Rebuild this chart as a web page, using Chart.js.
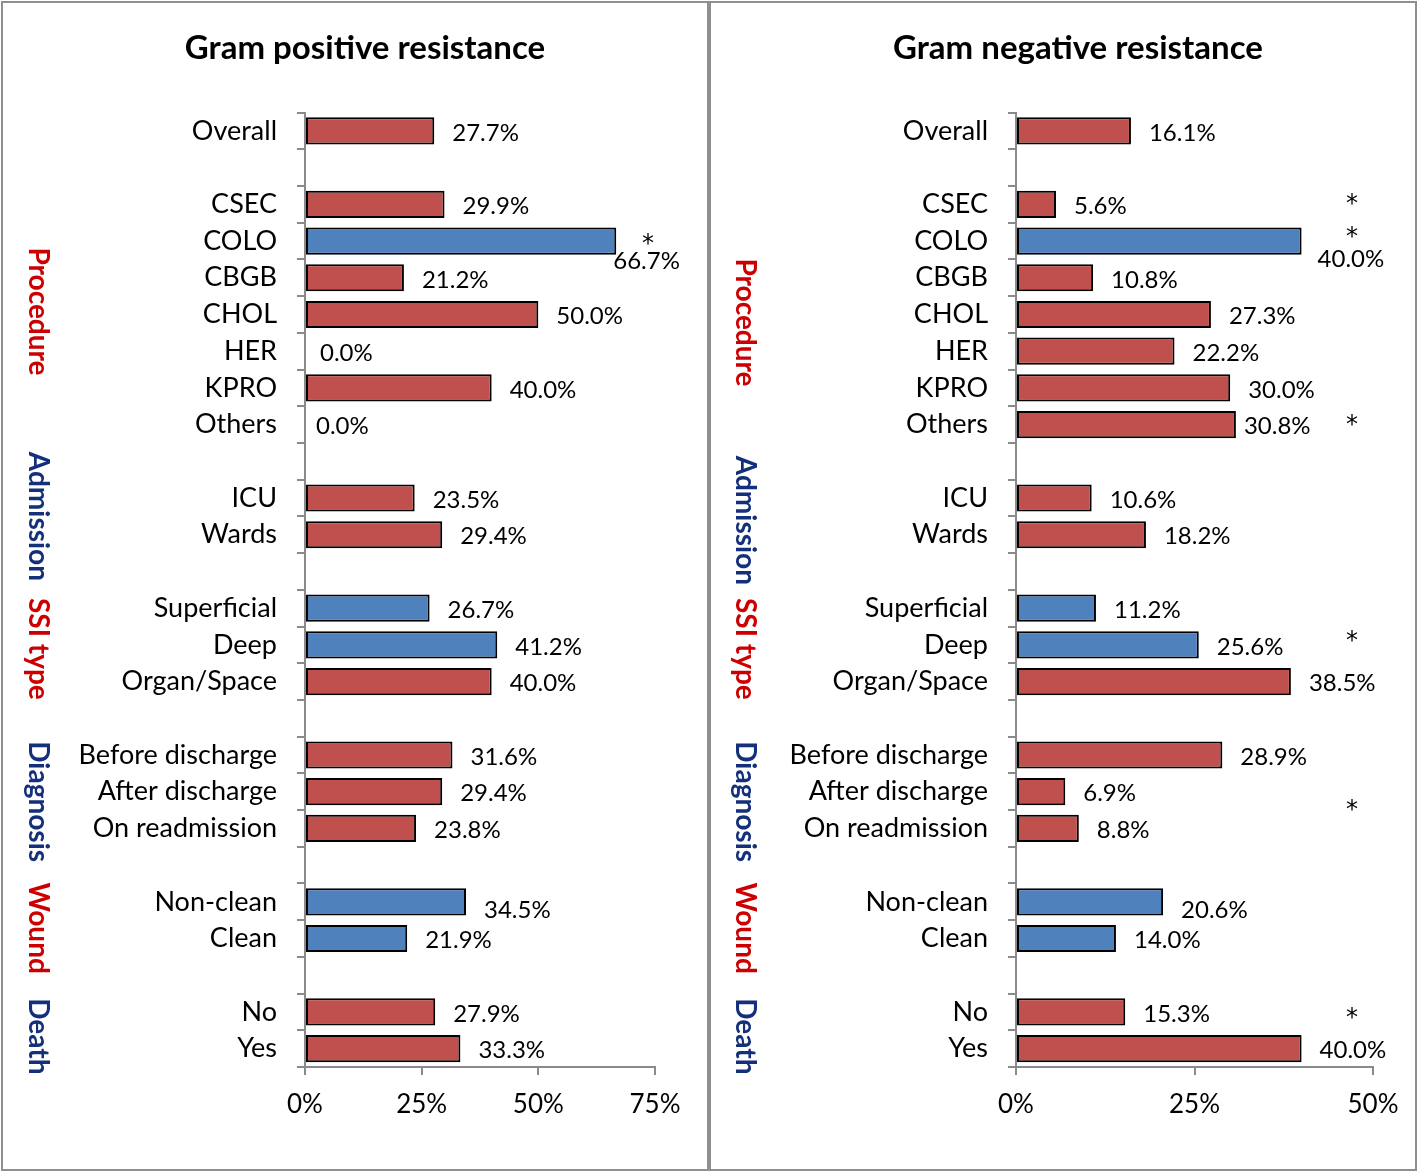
<!DOCTYPE html>
<html>
<head>
<meta charset="utf-8">
<title>Gram positive and Gram negative resistance</title>
<script src="https://cdn.jsdelivr.net/npm/chart.js@4.4.0/dist/chart.umd.min.js"></script>
<style>
  body { margin: 0; background: #fff; }
  .panel { position: absolute; top: 1px; width: 708px; height: 1170px; border: 2px solid #8f8f8f; box-sizing: border-box; }
  #panelPos { left: 1px; }
  #panelNeg { left: 709px; }
  canvas { position: absolute; left: 0; top: 0; }
</style>
</head>
<body>
<div class="panel" id="panelPos"><canvas id="chartPos" width="704" height="1166"></canvas></div>
<div class="panel" id="panelNeg"><canvas id="chartNeg" width="704" height="1166"></canvas></div>
<script>
// categorías (las vacías son los huecos entre grupos)
const categories = ['Overall', '', 'CSEC', 'COLO', 'CBGB', 'CHOL', 'HER', 'KPRO', 'Others', '',
  'ICU', 'Wards', '', 'Superficial', 'Deep', 'Organ/Space', '',
  'Before discharge', 'After discharge', 'On readmission', '', 'Non-clean', 'Clean', '', 'No', 'Yes'];

const gramPositive = [27.7, null, 29.9, 66.7, 21.2, 50.0, 0.0, 40.0, 0.0, null, 23.5, 29.4, null,
  26.7, 41.2, 40.0, null, 31.6, 29.4, 23.8, null, 34.5, 21.9, null, 27.9, 33.3];
const gramNegative = [16.1, null, 5.6, 40.0, 10.8, 27.3, 22.2, 30.0, 30.8, null, 10.6, 18.2, null,
  11.2, 25.6, 38.5, null, 28.9, 6.9, 8.8, null, 20.6, 14.0, null, 15.3, 40.0];

const blueBars = ['COLO', 'Superficial', 'Deep', 'Non-clean', 'Clean'];
const positiveStars = ['COLO'];
const negativeStars = ['CSEC', 'COLO', 'Others', 'Deep', 'After discharge', 'No'];

const positiveTicks = [0, 25, 50, 75];
const negativeTicks = [0, 25, 50];

const groups = [
  { name: 'Procedure', from: 'CSEC', to: 'Others' },
  { name: 'Admission', from: 'ICU', to: 'Wards' },
  { name: 'SSI type', from: 'Superficial', to: 'Organ/Space' },
  { name: 'Diagnosis', from: 'Before discharge', to: 'On readmission' },
  { name: 'Wound', from: 'Non-clean', to: 'Clean' },
  { name: 'Death', from: 'No', to: 'Yes' }
];

const RED = '#c0504d';
const BLUE = '#4f81bd';
const GROUP_COLORS = ['#cc0000', '#14307a'];
const AXIS = '#8a8a8a';
const FONT = 'Lato, Carlito, Calibri, sans-serif';

// etiquetas y asteriscos
const annotate = {
  id: 'annotate',
  afterDraw(chart, args, o) {
    const ctx = chart.ctx;
    const bars = chart.getDatasetMeta(0).data;
    const values = chart.data.datasets[0].data;
    const area = chart.chartArea;
    ctx.save();
    ctx.fillStyle = '#000';
    ctx.textBaseline = 'middle';
    ctx.textAlign = 'left';
    ctx.font = '24px ' + FONT;
    bars.forEach((bar, i) => {
      if (values[i] == null) return;
      const s = o.labelShift[categories[i]] || {};
      ctx.fillText(values[i].toFixed(1) + '%', bar.x + 18 + (s.dx || 0), bar.y + 2 + (s.dy || 0));
    });

    ctx.textAlign = 'center';
    ctx.textBaseline = 'alphabetic';
    ctx.font = '24px "DejaVu Sans", sans-serif';
    o.stars.forEach(name => {
      const bar = bars[categories.indexOf(name)];
      ctx.fillText('*', area.right - o.starInset, bar.y + 10 + (o.starShift[name] || 0));
    });

    // nombres de grupo en vertical
    ctx.textBaseline = 'middle';
    ctx.font = 'bold 28px ' + FONT;
    groups.forEach((g, k) => {
      const y = (bars[categories.indexOf(g.from)].y + bars[categories.indexOf(g.to)].y) / 2 + (o.groupShift[k] || 0);
      ctx.save();
      ctx.translate(o.groupX, y);
      ctx.rotate(Math.PI / 2);
      ctx.fillStyle = GROUP_COLORS[k % 2];
      ctx.fillText(g.name, 0, 0);
      ctx.restore();
    });
    ctx.restore();
  }
};

function makeChart(id, title, values, ticks, cfg) {
  return new Chart(document.getElementById(id), {
    type: 'bar',
    data: {
      labels: categories,
      datasets: [{
        data: values,
        backgroundColor: categories.map(c => blueBars.includes(c) ? BLUE : RED),
        borderColor: '#000',
        borderWidth: values.map(v => v ? 2 : 0),
        borderSkipped: false,
        barPercentage: 0.74,
        categoryPercentage: 1
      }]
    },
    options: {
      indexAxis: 'y',
      responsive: false,
      animation: false,
      devicePixelRatio: 1,
      layout: { padding: { left: 72, right: cfg.padRight, top: 0, bottom: 0 } },
      plugins: {
        legend: { display: false },
        tooltip: { enabled: false },
        title: {
          display: true,
          text: title,
          color: '#000',
          font: { family: FONT, size: 33, weight: 'bold' },
          padding: { top: 26, bottom: 44 }
        },
        annotate: cfg
      },
      scales: {
        x: {
          min: 0,
          max: ticks[ticks.length - 1],
          afterBuildTicks: s => { s.ticks = ticks.map(v => ({ value: v })); },
          afterFit: s => { s.height = 102; },
          grid: { drawOnChartArea: false, tickLength: 8, color: AXIS, lineWidth: 2 },
          border: { color: AXIS, width: 2 },
          ticks: {
            color: '#000',
            padding: 14,
            font: { family: FONT, size: 26 },
            callback: v => v + '%'
          }
        },
        y: {
          afterFit: s => { s.width = 230 + cfg.axisShift; },
          grid: { drawOnChartArea: false, tickLength: 8, color: AXIS, lineWidth: 2, offset: true },
          border: { color: AXIS, width: 2 },
          ticks: {
            autoSkip: false,
            color: '#000',
            padding: 20,
            font: { family: FONT, size: 27 }
          }
        }
      }
    },
    plugins: [annotate]
  });
}

// Gram positivo
makeChart('chartPos', 'Gram positive resistance', gramPositive, positiveTicks, {
  padRight: 52,
  axisShift: 0,
  stars: positiveStars,
  starInset: 7,
  starShift: { COLO: 0 },
  labelShift: { COLO: { dx: -21, dy: 18 }, 'Non-clean': { dy: 6 }, HER: { dx: -3 }, Others: { dx: -7 } },
  groupX: 35,
  groupShift: [-3, 0, 4, 10, 8, 6]
});

// Gram negativo
makeChart('chartNeg', 'Gram negative resistance', gramNegative, negativeTicks, {
  padRight: 42,
  axisShift: 3,
  stars: negativeStars,
  starInset: 21,
  starShift: { CSEC: -3, COLO: -7, Others: -3, Deep: -7, 'After discharge': 15, No: 3 },
  labelShift: { COLO: { dx: -2, dy: 16 }, 'Non-clean': { dy: 6 }, Others: { dx: -10 } },
  groupX: 34,
  groupShift: [8, 4, 4, 10, 8, 6]
});
</script>
</body>
</html>
